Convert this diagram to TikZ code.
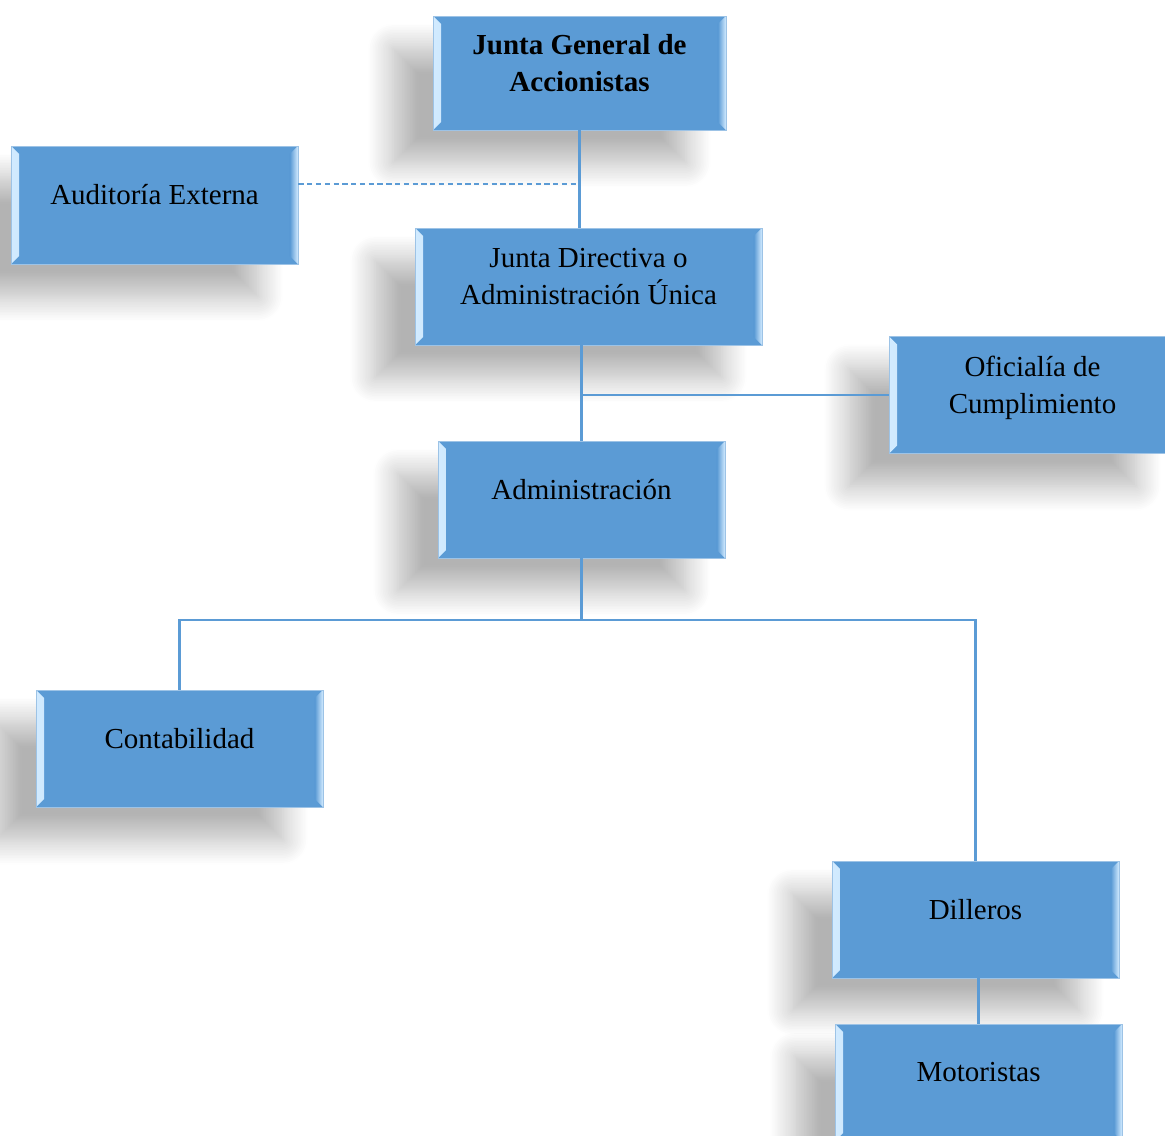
\documentclass[tikz,border=0pt]{standalone}
\usepackage{fontspec}
\setmainfont{Liberation Serif}
\newfontfamily\orgfont{Liberation Serif}
\usetikzlibrary{shadows.blur}

\definecolor{boxfill}{HTML}{5B9BD5}
\definecolor{boxedge}{HTML}{9DC3E6}
\definecolor{bevlight}{HTML}{D2EBFF}
\definecolor{linkblue}{HTML}{5B9BD5}

\tikzset{
  orgbox/.style={draw=boxedge, line width=0.5pt, fill=boxfill,
    minimum width=5.74cm, minimum height=2.34cm, inner sep=0pt,
    align=center, text depth=0.42cm,
    font=\orgfont\fontsize{16.5}{21}\selectfont,
    blur shadow={shadow xshift=-0.8cm, shadow yshift=-0.65cm,
      shadow blur radius=0.5cm, shadow blur steps=16, shadow opacity=30},
    path picture={
      \fill[left color=bevlight, right color=boxfill]
        (path picture bounding box.north west)
        -- ([shift={(0.16cm,-0.16cm)}]path picture bounding box.north west)
        -- ([shift={(0.16cm,0.16cm)}]path picture bounding box.south west)
        -- (path picture bounding box.south west) -- cycle;
      \fill[left color=boxfill, right color=bevlight]
        (path picture bounding box.north east)
        -- ([shift={(-0.16cm,-0.16cm)}]path picture bounding box.north east)
        -- ([shift={(-0.16cm,0.16cm)}]path picture bounding box.south east)
        -- (path picture bounding box.south east) -- cycle;
    }},
  link/.style={draw=linkblue, line width=1.6pt},
  dashlink/.style={draw=linkblue, line width=0.8pt, dash pattern=on 3pt off 2pt}
}

\begin{document}
\begin{tikzpicture}[x=0.02cm, y=-0.02cm]
  \useasboundingbox (0,0) rectangle (1165,1135);
  \clip (0,0) rectangle (1165,1135);
  % boxes
  \node[orgbox, minimum width=5.86cm, minimum height=2.28cm,
        font=\orgfont\fontsize{16.5}{21}\selectfont\bfseries] (jgen) at (579.5,73) {Junta General de\\Accionistas};
  \node[orgbox, minimum height=2.36cm] (audit) at (154.5,205) {Auditoría Externa};
  \node[orgbox, minimum width=6.94cm] (jdir) at (588.5,286.5) {Junta Directiva o\\Administración Única};
  \node[orgbox] (ofic) at (1032.5,395) {Oficialía de\\Cumplimiento};
  \node[orgbox] (admin) at (581.5,499.5) {Administración};
  \node[orgbox] (conta) at (179.5,748.5) {Contabilidad};
  \node[orgbox] (dill) at (975.5,919.5) {Dilleros};
  \node[orgbox] (moto) at (978.5,1082.5) {Motoristas};
  % connectors
  \coordinate (dashend) at (581,184);
  \coordinate (bus) at (0,620);
  \draw[link] (jgen.south) -- (jgen.south |- jdir.north);
  \draw[dashlink] (audit.east |- dashend) -- (dashend);
  \draw[link] (admin.north |- jdir.south) -- (admin.north);
  \draw[link] (admin.north |- ofic.west) -- (ofic.west);
  \draw[link] (admin.south) -- (admin.south |- bus);
  \draw[link] (conta.north) -- (conta.north |- bus) -- (dill.north |- bus) -- (dill.north);
  \draw[link] (moto.north |- dill.south) -- (moto.north);
\end{tikzpicture}
\end{document}
